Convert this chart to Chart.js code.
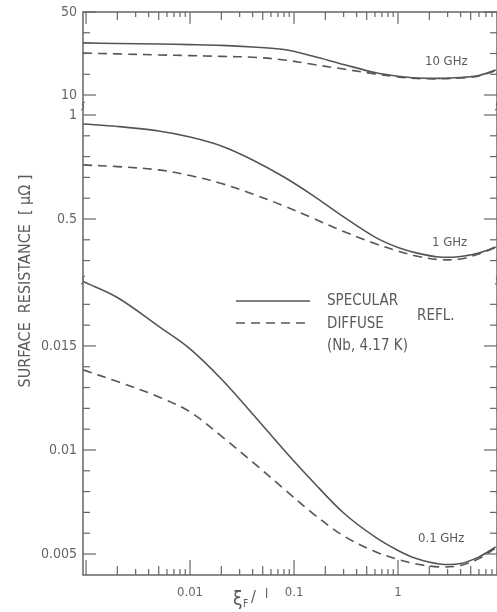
<!DOCTYPE html>
<html>
<head>
<meta charset="utf-8">
<script src="https://cdn.jsdelivr.net/npm/chart.js@4.4.1/dist/chart.umd.min.js"></script>
<style>
  html, body { margin: 0; padding: 0; background: #fff; }
</style>
</head>
<body>
<canvas id="rsChart" width="497" height="612"></canvas>
<script>
const xi = [0.000935, 0.002, 0.005, 0.01, 0.02, 0.04, 0.08, 0.15, 0.3, 0.6, 1, 1.5, 2.5, 4, 6, 8.7];

// 10 GHz (top panel)
const spec10 = [35.1, 34.8, 34.6, 34.3, 33.9, 33.1, 31.9, 28.8, 24.7, 20.8, 19.0, 18.2, 18.0, 18.4, 19.4, 22.0];
const diff10 = [30.2, 29.8, 29.3, 29.0, 28.6, 28.2, 26.9, 24.8, 22.5, 20.2, 18.7, 18.0, 17.8, 18.2, 19.2, 21.8];
// 1 GHz (middle panel)
const spec1 = [0.957, 0.945, 0.923, 0.894, 0.851, 0.784, 0.702, 0.615, 0.510, 0.413, 0.363, 0.337, 0.317, 0.320, 0.337, 0.365];
const diff1 = [0.760, 0.752, 0.736, 0.709, 0.671, 0.620, 0.563, 0.505, 0.440, 0.382, 0.346, 0.322, 0.305, 0.308, 0.332, 0.363];
// 0.1 GHz (bottom panel)
const spec01 = [0.0181, 0.01733, 0.01594, 0.01486, 0.01341, 0.01173, 0.0100, 0.00851, 0.00697, 0.00582, 0.00517, 0.00478, 0.00452, 0.00454, 0.00486, 0.00534];
const diff01 = [0.01385, 0.01329, 0.01255, 0.01183, 0.01067, 0.00942, 0.00813, 0.00697, 0.00587, 0.00512, 0.00474, 0.00452, 0.00438, 0.00445, 0.00478, 0.00529];

// tick positions and labels for the broken y axis
const topTicks = [10, 20, 30, 40, 50];
const topLabels = ['10', '', '', '', '50'];
const midTicks = [0.3, 0.4, 0.5, 0.6, 0.7, 0.8, 0.9, 1];
const midLabels = ['', '', '0.5', '', '', '', '', '1'];
const lowTicks = [0.005, 0.006, 0.007, 0.008, 0.009, 0.01, 0.011, 0.012, 0.013, 0.014, 0.015, 0.016, 0.017];
const lowLabels = ['0.005', '', '', '', '', '0.01', '', '', '', '', '0.015', '', ''];
const xMajor = [0.01, 0.1, 1];
const xMajorLabels = ['0.01', '0.1', '1'];

const pts = (ys) => xi.map((x, i) => ({ x: x, y: ys[i] }));

const ink = '#5a5a5a';
const font = "'DejaVu Sans Condensed', 'DejaVu Sans', sans-serif";

function curve(label, ys, axis, dashed) {
    return {
        label: label,
        data: pts(ys),
        yAxisID: axis,
        borderColor: '#555',
        borderWidth: 1.6,
        borderDash: dashed ? [9, 6] : [],
        pointRadius: 0,
        tension: 0.35,
        fill: false
    };
}

function yScale(ticks, labels, min, max, weight, stackWeight) {
    return {
        type: 'linear',
        position: 'left',
        stack: 'rs',
        stackWeight: stackWeight,
        weight: weight,
        min: min,
        max: max,
        grid: { display: false, drawTicks: false },
        border: { display: false },
        afterFit: (s) => { s.width = 83; s.paddingTop = 0; s.paddingBottom = 0; },
        afterBuildTicks: (s) => { s.ticks = ticks.map(v => ({ value: v })); },
        ticks: {
            autoSkip: false,
            padding: 6,
            color: '#666',
            font: { family: font, size: 14 },
            callback: (v, i) => labels[i]
        }
    };
}

function seg(ctx, x1, y1, x2, y2) {
    ctx.beginPath();
    ctx.moveTo(x1, y1);
    ctx.lineTo(x2, y2);
    ctx.stroke();
}

// frame, inward tick marks, axis breaks, legend and text
const decorations = {
    id: 'decorations',
    afterDatasetsDraw(chart) {
        const { ctx, chartArea: a, scales } = chart;
        ctx.save();
        ctx.strokeStyle = '#666';
        ctx.lineWidth = 1.5;
        ctx.strokeRect(a.left, a.top, a.right - a.left, a.bottom - a.top);

        ctx.lineWidth = 1.2;
        ['yTop', 'yMid', 'yLow'].forEach(id => {
            const s = scales[id];
            s.ticks.forEach(t => {
                const y = s.getPixelForValue(t.value);
                const len = t.label ? 13 : 7;
                seg(ctx, a.left, y, a.left + len, y);
                seg(ctx, a.right, y, a.right - len, y);
            });
        });
        const sx = scales.x;
        sx.ticks.forEach(t => {
            const x = sx.getPixelForValue(t.value);
            const m = Math.round(t.value / Math.pow(10, Math.floor(Math.log10(t.value) + 1e-9)));
            const len = m === 1 ? 15 : (m === 2 || m === 5 ? 9 : 6);
            seg(ctx, x, a.bottom, x, a.bottom - len);
            seg(ctx, x, a.top, x, a.top + (m === 1 ? 12 : len - 1));
        });

        // axis break marks
        [scales.yTop.bottom, scales.yMid.bottom].forEach(y => {
            [a.left, a.right].forEach(x => {
                ctx.beginPath();
                ctx.moveTo(x - 2, y + 4);
                ctx.bezierCurveTo(x + 5, y + 2, x - 5, y - 2, x + 2, y - 4);
                ctx.stroke();
            });
        });

        // legend
        ctx.strokeStyle = '#555';
        ctx.lineWidth = 1.6;
        seg(ctx, 236, 301, 310, 301);
        ctx.setLineDash([9, 6]);
        seg(ctx, 236, 323, 308, 323);
        ctx.setLineDash([]);

        ctx.fillStyle = ink;
        ctx.textBaseline = 'middle';
        ctx.textAlign = 'left';
        ctx.font = '15px ' + font;
        ctx.fillText('SPECULAR', 327, 301);
        ctx.fillText('DIFFUSE', 327, 324);
        ctx.fillText('(Nb, 4.17 K)', 327, 346);
        ctx.fillText('REFL.', 417, 316);

        ctx.font = '13px ' + font;
        ctx.fillText('10 GHz', 425, 62);
        ctx.fillText('1 GHz', 432, 243);
        ctx.fillText('0.1 GHz', 418, 539);

        // x axis title: xi_F / l
        ctx.textBaseline = 'alphabetic';
        ctx.font = '19px ' + font;
        ctx.fillText('ξ', 233, 605);
        ctx.font = '10px ' + font;
        ctx.fillText('F', 243, 607);
        ctx.font = '16px ' + font;
        ctx.fillText('/', 251, 602);
        ctx.font = '13px ' + font;
        ctx.fillText('l', 265, 598);

        // y axis title
        ctx.save();
        ctx.translate(26, 281);
        ctx.rotate(-Math.PI / 2);
        ctx.textAlign = 'center';
        ctx.textBaseline = 'middle';
        ctx.font = '16px ' + font;
        ctx.fillText('SURFACE  RESISTANCE  [ μΩ ]', 0, 0);
        ctx.restore();

        ctx.restore();
    }
};

const ctx = document.getElementById('rsChart').getContext('2d');
const rsChart = new Chart(ctx, {
    type: 'line',
    data: {
        datasets: [
            curve('10 GHz specular', spec10, 'yTop', false),
            curve('10 GHz diffuse', diff10, 'yTop', true),
            curve('1 GHz specular', spec1, 'yMid', false),
            curve('1 GHz diffuse', diff1, 'yMid', true),
            curve('0.1 GHz specular', spec01, 'yLow', false),
            curve('0.1 GHz diffuse', diff01, 'yLow', true)
        ]
    },
    options: {
        responsive: false,
        animation: false,
        devicePixelRatio: 1,
        layout: { padding: { top: 12, right: 0, left: 0, bottom: 0 } },
        plugins: { legend: { display: false }, tooltip: { enabled: false } },
        scales: {
            x: {
                type: 'logarithmic',
                position: 'bottom',
                min: 0.000935,
                max: 8.95,
                grid: { display: false, drawTicks: false },
                border: { display: false },
                afterFit: (s) => { s.height = 37; s.paddingLeft = 0; s.paddingRight = 0; },
                afterBuildTicks: (s) => {
                    const vals = [];
                    [0.001, 0.01, 0.1, 1].forEach(d => {
                        for (let m = 1; m <= 9; m++) {
                            const v = Number((m * d).toPrecision(3));
                            if (v >= s.min && v <= s.max) vals.push(v);
                        }
                    });
                    s.ticks = vals.map(v => ({ value: v }));
                },
                ticks: {
                    autoSkip: false,
                    maxRotation: 0,
                    padding: 10,
                    color: '#666',
                    font: { family: font, size: 13 },
                    callback: (v) => {
                        const k = xMajor.indexOf(v);
                        return k >= 0 ? xMajorLabels[k] : '';
                    }
                }
            },
            yLow: yScale(lowTicks, lowLabels, 0.00399, 0.01817, 1, 295),
            yMid: yScale(midTicks, midLabels, 0.2067, 1.0433, 2, 174),
            yTop: yScale(topTicks, topLabels, 4.70, 50, 3, 94)
        }
    },
    plugins: [decorations]
});
</script>
</body>
</html>
